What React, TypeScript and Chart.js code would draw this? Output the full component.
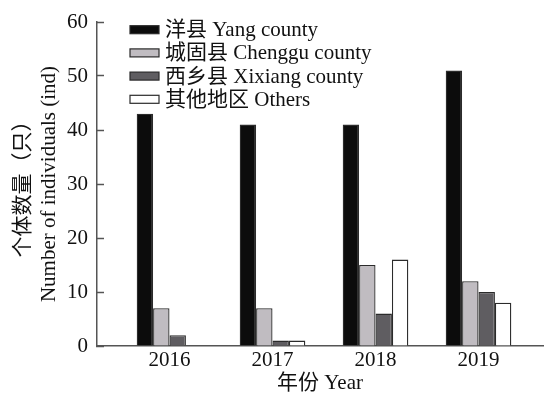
import { useEffect, useRef } from "react";
import { Chart, registerables } from "chart.js";

Chart.register(...registerables);

// Yearly counts of individuals by area
const YEARS = [2016, 2017, 2018, 2019];
const SERIES_NAMES = ["洋县 Yang county", "城固县 Chenggu county", "西乡县 Xixiang county", "其他地区 Others"];
const YANG = [43, 41, 41, 51];
const CHENGGU = [7, 7, 15, 12];
const XIXIANG = [2, 1, 6, 10];
const OTHERS = [0, 1, 16, 8];
const Y_TICKS = [0, 10, 20, 30, 40, 50, 60];

const FILLS = ["#0c0c0c", "#c0bcc1", "#5f5d61", "#ffffff"];
const EDGE = "#2b2b2b";
const AXIS = "#555555";
const INK = "#111111";
const FONT_FAMILY = "'Liberation Serif', 'Times New Roman', 'Noto Sans CJK SC', serif";
const FONT_SIZE = 21;

// Legend drawn inside the plot area, top-left
const insideLegend = {
  id: "insideLegend",
  afterDraw(chart: any) {
    const { ctx } = chart;
    ctx.save();
    ctx.font = `${FONT_SIZE}px ${FONT_FAMILY}`;
    ctx.textBaseline = "middle";
    ctx.textAlign = "left";
    chart.data.datasets.forEach((ds: any, i: number) => {
      const cy = 29.7 + i * 23.2;
      ctx.fillStyle = ds.backgroundColor;
      ctx.fillRect(130, cy - 4, 29, 8);
      ctx.lineWidth = 1.2;
      ctx.strokeStyle = EDGE;
      ctx.strokeRect(130, cy - 4, 29, 8);
      ctx.fillStyle = INK;
      ctx.fillText(ds.label, 165, cy + 1);
    });
    ctx.restore();
  },
};

function makeSeries(values: number[]) {
  return values.map((v, i) => ({ x: YEARS[i], y: v }));
}

export default function App() {
  const canvasRef = useRef<HTMLCanvasElement | null>(null);

  useEffect(() => {
    if (!canvasRef.current) return;
    const seriesValues = [YANG, CHENGGU, XIXIANG, OTHERS];
    const chart = new Chart(canvasRef.current, {
      type: "bar",
      data: {
        datasets: seriesValues.map((vals, i) => ({
          label: SERIES_NAMES[i],
          data: makeSeries(vals),
          backgroundColor: FILLS[i],
          borderColor: EDGE,
          borderWidth: 1.3,
          categoryPercentage: 0.637,
          barPercentage: 1,
        })),
      },
      options: {
        animation: false,
        responsive: false,
        devicePixelRatio: 1,
        layout: { padding: { top: 22, right: 1, left: 0, bottom: 0 } },
        plugins: {
          legend: { display: false },
          tooltip: { enabled: false },
        },
        scales: {
          x: {
            type: "linear",
            offset: false,
            min: 2015.296,
            max: 2019.626,
            afterBuildTicks: (scale: any) => {
              scale.ticks = YEARS.map((v) => ({ value: v }));
            },
            afterFit: (scale: any) => {
              scale.height = 50;
            },
            grid: { display: true, offset: false, drawOnChartArea: false, drawTicks: false },
            border: { display: true, color: AXIS, width: 1.5 },
            ticks: {
              color: INK,
              padding: 2,
              font: { family: FONT_FAMILY, size: FONT_SIZE },
              callback: (v: any) => String(v),
            },
            title: {
              display: true,
              text: "年份 Year",
              color: INK,
              padding: 0,
              font: { family: FONT_FAMILY, size: FONT_SIZE, lineHeight: 1.2 },
            },
          },
          y: {
            min: 0,
            max: 60,
            afterBuildTicks: (scale: any) => {
              scale.ticks = Y_TICKS.map((v) => ({ value: v }));
            },
            afterFit: (scale: any) => {
              scale.width = 97;
              scale.paddingTop = 0;
              scale.paddingBottom = 0;
            },
            grid: {
              display: true,
              drawOnChartArea: false,
              drawTicks: true,
              // negative length turns the tick marks inward
              tickLength: -7,
              tickWidth: 1.5,
              tickColor: AXIS,
            },
            border: { display: true, color: AXIS, width: 1.5 },
            ticks: {
              color: INK,
              padding: 16,
              font: { family: FONT_FAMILY, size: FONT_SIZE },
            },
            title: {
              display: true,
              text: ["个体数量（只）", "Number of individuals (ind)"],
              color: INK,
              padding: { top: 10, bottom: 0 },
              font: { family: FONT_FAMILY, size: FONT_SIZE, lineHeight: 1.24 },
            },
          },
        },
      },
      plugins: [insideLegend],
    });
    return () => chart.destroy();
  }, []);

  return (
    <div style={{ position: "fixed", left: 0, top: 0, width: 544, height: 396, background: "#ffffff" }}>
      <canvas ref={canvasRef} width={544} height={396} />
    </div>
  );
}
